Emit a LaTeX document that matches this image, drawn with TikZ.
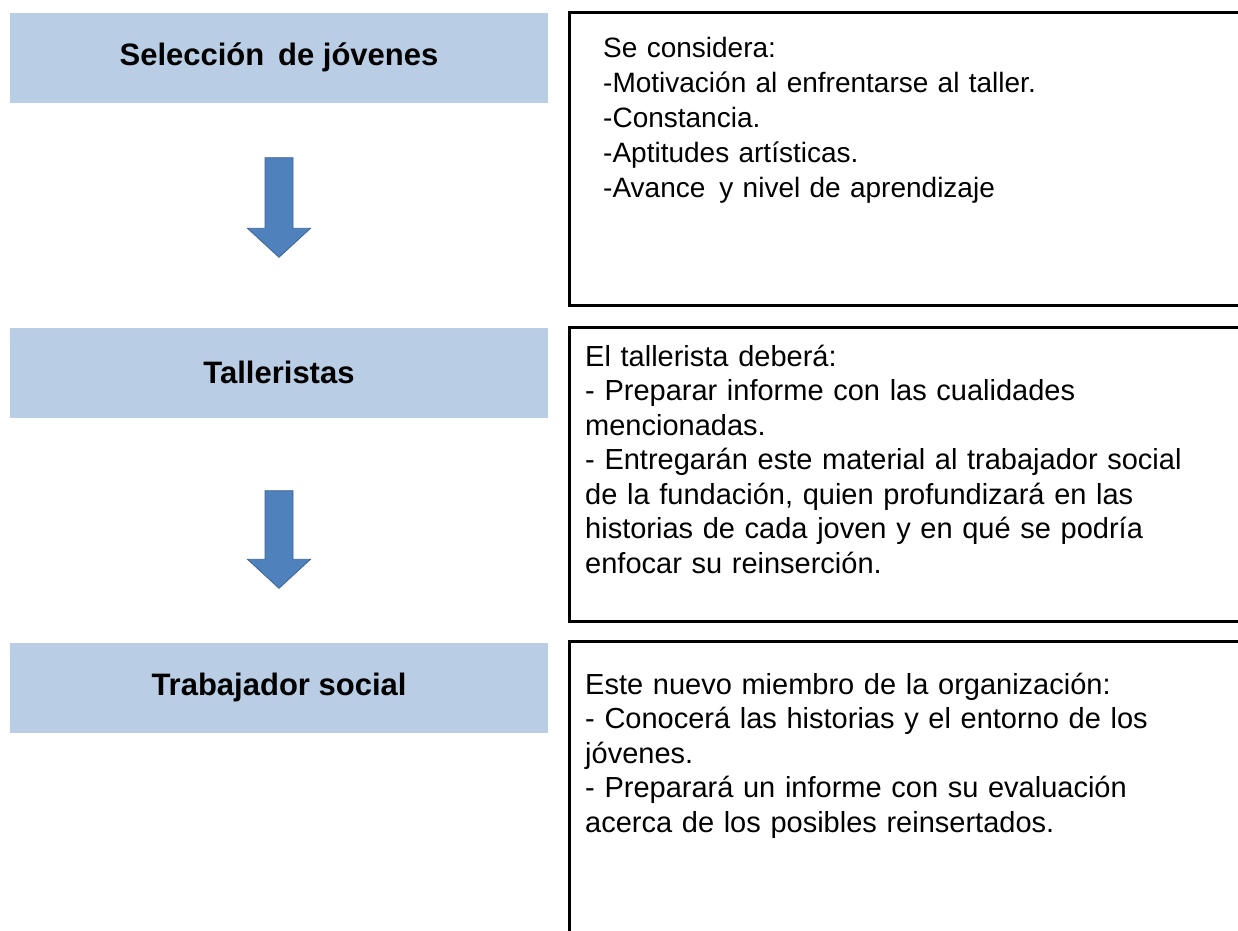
\documentclass[tikz,border=0pt]{standalone}
\usepackage{fontspec}
\setmainfont{Liberation Sans}
\usetikzlibrary{calc}
\definecolor{boxblue}{HTML}{B9CDE5}
\definecolor{arrowblue}{HTML}{4F81BD}
\definecolor{arrowline}{HTML}{3C6494}
\tikzset{
	stage/.style={fill=boxblue, minimum width=538pt, minimum height=90pt, inner sep=0pt, font=\fontsize{31}{36}\selectfont\bfseries},
	notes/.style={anchor=base west, text width=640pt, align=left, inner sep=0pt, font=\fontsize{29}{34.5}\selectfont},
	notebox/.style={draw=black, line width=3pt},
	downarrow/.style={fill=arrowblue, draw=arrowline, line width=0.8pt}
}
\newcommand{\blockarrow}[2]{%
	\draw[downarrow] ($(#1)+(-14,0)$) -- ($(#1)+(14,0)$) -- ($(#2)+(14,-29)$) -- ($(#2)+(31.5,-29)$)
		-- (#2) -- ($(#2)+(-31.5,-29)$) -- ($(#2)+(-14,-29)$) -- cycle;}

\begin{document}
\begin{tikzpicture}[x=1pt, y=-1pt]
		\clip (0,0) rectangle (1238,930);
		\fill[white] (0,0) rectangle (1238,930);
		\node[stage] (sel) at (279,57.5) {Selección \,de jóvenes};
		\node[stage] (tal) at (279,372.5) {Talleristas};
		\node[stage] (soc) at (279,687.5) {Trabajador social};
		\coordinate (a1) at ($(sel.south)+(0,55)$);
		\coordinate (b1) at ($(tal.north)+(0,-70)$);
		\coordinate (a2) at ($(tal.south)+(0,73)$);
		\coordinate (b2) at ($(soc.north)+(0,-54)$);
		\blockarrow{a1}{b1}
		\blockarrow{a2}{b2}
		\draw[notebox] (569,12) rectangle (1250,305);
		\draw[notebox] (569,327) rectangle (1250,621);
		\draw[notebox] (569,641) rectangle (1250,960);
		\node[notes, font=\fontsize{28}{35}\selectfont] (crit) at (603,57) {Se considera:\\
			-Motivación al enfrentarse al taller.\\
			-Constancia.\\
			-Aptitudes artísticas.\\
			-Avance \,y nivel de aprendizaje};
		\node[notes] (tarea) at (585,366) {El tallerista deberá:\\
			- Preparar informe con las cualidades\\
			mencionadas.\\
			- Entregarán este material al trabajador social\\
			de la fundación, quien profundizará en las\\
			historias de cada joven y en qué se podría\\
			enfocar su reinserción.};
		\node[notes] (miembro) at (585,694) {Este nuevo miembro de la organización:\\
			- Conocerá las historias y el entorno de los\\
			jóvenes.\\
			- Preparará un informe con su evaluación\\
			acerca de los posibles reinsertados.};
	\end{tikzpicture}
\end{document}
